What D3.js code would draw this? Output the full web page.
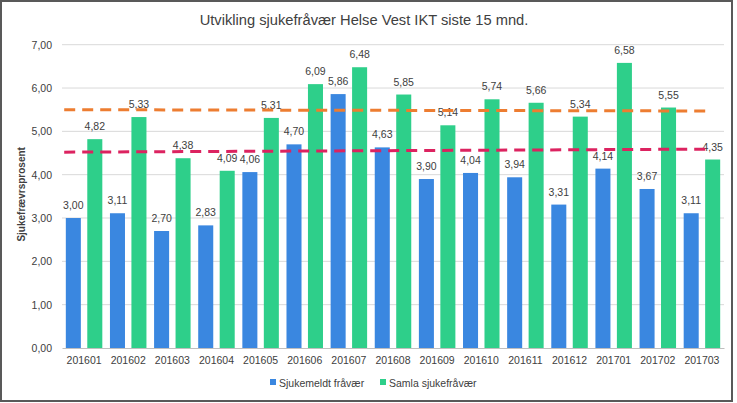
<!DOCTYPE html>
<html><head><meta charset="utf-8">
<script src="https://cdn.jsdelivr.net/npm/d3@7"></script>
<style>
html,body{margin:0;padding:0;background:#fff;}
svg{display:block;}
text{font-family:"Liberation Sans",Arial,sans-serif;fill:#404040;}
</style></head>
<body><svg id="chart" width="737" height="403"></svg>
<script>
const categories = ["201601","201602","201603","201604","201605","201606","201607","201608","201609","201610","201611","201612","201701","201702","201703"];
const sjukemeldt = [3.00,3.11,2.70,2.83,4.06,4.70,5.86,4.63,3.90,4.04,3.94,3.31,4.14,3.67,3.11];
const samla = [4.82,5.33,4.38,4.09,5.31,6.09,6.48,5.85,5.14,5.74,5.66,5.34,6.58,5.55,4.35];
const seriesNames = ["Sjukemeldt fråvær","Samla sjukefråvær"];
const seriesColors = ["#3a87e0","#2ecf8a"];
const yTicks = [0,1,2,3,4,5,6,7];
// trend lines: [start value, end value] over category-index extent
const trendIndexExtent = [-0.45, 14.2];
const trendSamla = [5.50, 5.47];
const trendSjukemeldt = [4.52, 4.59];
const trendColors = ["#ed7d31","#dc2360"];

const svg = d3.select("#chart");
const W = 737, H = 403;
const m = {left:62, right:13, top:44.7, bottom:55};
const pw = W - m.left - m.right, ph = H - m.top - m.bottom;

// outer border
svg.append("rect").attr("x",1).attr("y",1).attr("width",731).attr("height",400)
  .attr("fill","#fff").attr("stroke","#595959").attr("stroke-width",2);

const g = svg.append("g").attr("transform",`translate(${m.left},${m.top})`);

const x = d3.scaleBand().domain(categories).range([0,pw]).padding(0);
const bw = x.bandwidth();
const x1 = d3.scaleBand().domain([0,1]).range([bw/2-18.25, bw/2+18.25]).paddingInner(0.3).paddingOuter(0);
const y = d3.scaleLinear().domain([0,7]).range([ph,0]);
const fmt = v => d3.format(".2f")(v).replace(".",",");

// gridlines
g.append("g").selectAll("line").data(yTicks.filter(t=>t>0)).join("line")
  .attr("x1",0).attr("x2",pw).attr("y1",d=>y(d)).attr("y2",d=>y(d))
  .attr("stroke","#d9d9d9").attr("stroke-width",1);

// y axis labels
const yAxis = d3.axisLeft(y).tickValues(yTicks).tickFormat(fmt).tickSize(0).tickPadding(10);
const ya = g.append("g").call(yAxis);
ya.select(".domain").remove();
ya.selectAll("text").attr("font-size","10.5px").attr("fill","#404040").style("font-family","'Liberation Sans',Arial,sans-serif");

// bars
const data = categories.map((c,i)=>({c, vals:[sjukemeldt[i], samla[i]]}));
const groups = g.append("g").selectAll("g").data(data).join("g")
  .attr("transform",d=>`translate(${x(d.c)},0)`);
groups.selectAll("rect").data(d=>d.vals.map((v,k)=>({v,k}))).join("rect")
  .attr("x",d=>x1(d.k)).attr("width",x1.bandwidth())
  .attr("y",d=>y(d.v)).attr("height",d=>ph-y(d.v))
  .attr("fill",d=>seriesColors[d.k]);

// x axis
const xAxis = d3.axisBottom(x).tickSize(0).tickPadding(9);
const xa = g.append("g").attr("transform",`translate(0,${ph})`).call(xAxis);
xa.select(".domain").attr("stroke","#bfbfbf").attr("stroke-width",1);
xa.selectAll("text").attr("font-size","10.5px").attr("fill","#404040").style("font-family","'Liberation Sans',Arial,sans-serif");

// trend lines
const xi = d3.scaleLinear().domain([0,categories.length-1]).range([x(categories[0])+bw/2, x(categories[categories.length-1])+bw/2]);
const line = d3.line().x(d=>xi(d[0])).y(d=>y(d[1]));
[trendSamla, trendSjukemeldt].forEach((t,k)=>{
  g.append("path").datum([[trendIndexExtent[0],t[0]],[trendIndexExtent[1],t[1]]])
    .attr("d",line).attr("fill","none").attr("stroke",trendColors[k])
    .attr("stroke-width",3).attr("stroke-dasharray","11,7");
});

// data labels
groups.selectAll("text.lbl").data(d=>d.vals.map((v,k)=>({v,k}))).join("text")
  .attr("class","lbl")
  .attr("x",d=>x1(d.k)+x1.bandwidth()/2).attr("y",d=>y(d.v)-9)
  .attr("text-anchor","middle").attr("font-size","10.5px").text(d=>fmt(d.v));

// title
svg.append("text").attr("x",364).attr("y",25).attr("text-anchor","middle")
  .attr("font-size","14.7px").text("Utvikling sjukefråvær Helse Vest IKT siste 15 mnd.");

// y axis title
svg.append("text").attr("transform",`translate(25,${m.top+ph/2-2}) rotate(-90)`)
  .attr("text-anchor","middle").attr("font-size","10px").attr("font-weight","bold")
  .attr("fill","#262626").text("Sjukefrævrsprosent");

// legend
const legend = svg.append("g").attr("transform","translate(270,384)");
const items = [{x:0},{x:110}];
seriesNames.forEach((n,k)=>{
  const lg = legend.append("g").attr("transform",`translate(${items[k].x},0)`);
  lg.append("rect").attr("x",0).attr("y",-5).attr("width",6).attr("height",6).attr("fill",seriesColors[k]);
  lg.append("text").attr("x",9).attr("y",1).attr("dominant-baseline","middle").attr("font-size","10.5px").text(n)
    .attr("dy","-0.1em");
});
</script>
</body></html>
